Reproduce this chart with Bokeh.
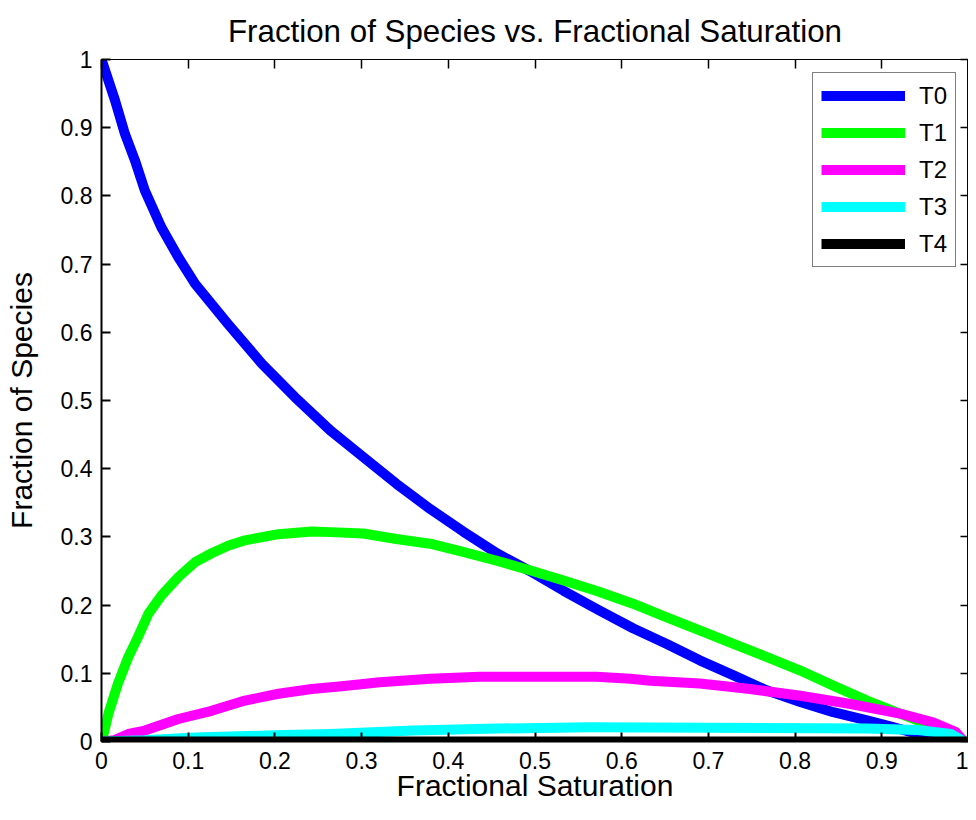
from bokeh.plotting import figure
from bokeh.models import Range1d, LinearAxis, FixedTicker, Legend, LegendItem
from bokeh.embed import file_html
from bokeh.resources import INLINE

# ---- data ----
t0_x = [0, 0.0156, 0.027, 0.0386, 0.05, 0.069, 0.0886, 0.108, 0.146, 0.185, 0.223, 0.264,
        0.302, 0.340, 0.379, 0.417, 0.456, 0.494, 0.533, 0.573, 0.613, 0.652, 0.690, 0.729,
        0.767, 0.806, 0.844, 0.883, 0.913, 0.95, 0.98]
t0_y = [1.0, 0.94, 0.891, 0.852, 0.808, 0.754, 0.710, 0.671, 0.612, 0.554, 0.505, 0.456,
        0.417, 0.378, 0.341, 0.308, 0.276, 0.250, 0.221, 0.193, 0.166, 0.143, 0.119, 0.097,
        0.075, 0.058, 0.043, 0.031, 0.021, 0.008, 0.0]

t1_x = [0, 0.002, 0.008, 0.019, 0.031, 0.042, 0.054, 0.069, 0.0886, 0.108, 0.127, 0.146,
        0.1655, 0.204, 0.2425, 0.264, 0.302, 0.340, 0.379, 0.417, 0.456, 0.494, 0.533, 0.573,
        0.613, 0.652, 0.690, 0.729, 0.767, 0.806, 0.844, 0.883, 0.921, 0.955, 0.984, 0.995]
t1_y = [0, 0.009, 0.041, 0.085, 0.124, 0.153, 0.187, 0.214, 0.241, 0.263, 0.276, 0.287,
        0.295, 0.304, 0.308, 0.307, 0.305, 0.297, 0.290, 0.278, 0.265, 0.251, 0.236, 0.220,
        0.202, 0.182, 0.163, 0.143, 0.124, 0.104, 0.082, 0.060, 0.041, 0.024, 0.008, 0.0]

t2_x = [0, 0.015, 0.031, 0.050, 0.0886, 0.127, 0.1655, 0.204, 0.2425, 0.277, 0.321, 0.379,
        0.4365, 0.494, 0.571, 0.610, 0.633, 0.690, 0.748, 0.806, 0.864, 0.921, 0.959, 0.985, 0.995]
t2_y = [0, 0.002, 0.011, 0.016, 0.033, 0.045, 0.060, 0.070, 0.077, 0.081, 0.087, 0.092,
        0.095, 0.095, 0.095, 0.092, 0.089, 0.085, 0.077, 0.067, 0.055, 0.041, 0.028, 0.014, 0.0]

t3_x = [0, 0.05, 0.108, 0.2, 0.264, 0.36, 0.456, 0.563, 0.7, 0.883, 0.94, 0.98, 0.995]
t3_y = [0, 0.002, 0.006, 0.009, 0.011, 0.016, 0.019, 0.021, 0.020, 0.019, 0.017, 0.011, 0.0]

t4_x = [0, 0.25, 0.5, 0.75, 1.0]
t4_y = [0, 0, 0, 0, 0]

series_names = ["T0", "T1", "T2", "T3", "T4"]
series_colors = ["#0000FF", "#00FF00", "#FF00FF", "#00FFFF", "#000000"]

tick_values = [0, 0.1, 0.2, 0.3, 0.4, 0.5, 0.6, 0.7, 0.8, 0.9, 1.0]
tick_labels = ["0", "0.1", "0.2", "0.3", "0.4", "0.5", "0.6", "0.7", "0.8", "0.9", "1"]

title_text = "Fraction of Species vs. Fractional Saturation"
x_label_text = "Fractional Saturation"
y_label_text = "Fraction of Species"

FONT = "Liberation Sans"

p = figure(width=968, height=804, x_range=Range1d(0, 1), y_range=Range1d(0, 1),
           output_backend="svg", toolbar_location=None,
           min_border_left=101, min_border_right=0, min_border_top=59, min_border_bottom=62,
           title=title_text)
p.title.text_font = FONT
p.title.text_font_size = "31.3px"
p.title.text_font_style = "normal"
p.title.align = "center"
p.title.text_color = "black"
p.title.standoff = 22

p.xgrid.visible = False
p.ygrid.visible = False
p.outline_line_color = "black"
p.outline_line_width = 1
p.background_fill_color = "white"
p.border_fill_color = "white"

overrides = {v: l for v, l in zip(tick_values, tick_labels)}

for ax in (p.xaxis[0], p.yaxis[0]):
    ax.ticker = FixedTicker(ticks=tick_values)
    ax.major_label_overrides = overrides
    ax.major_tick_in = 9
    ax.major_tick_out = 0
    ax.minor_tick_line_color = None
    ax.axis_line_width = 2
    ax.major_tick_line_width = 2
    ax.axis_line_color = "black"
    ax.major_tick_line_color = "black"
    ax.major_label_text_font = FONT
    ax.major_label_text_font_size = "23px"
    ax.major_label_text_color = "black"
    ax.axis_label_text_font = FONT
    ax.axis_label_text_font_size = "30px"
    ax.axis_label_text_font_style = "normal"
    ax.axis_label_text_color = "black"

p.xaxis[0].axis_label = x_label_text
p.yaxis[0].axis_label = y_label_text
p.xaxis[0].major_label_standoff = 10
p.xaxis[0].axis_label_standoff = -3
p.yaxis[0].major_label_standoff = 9
p.yaxis[0].axis_label_standoff = 20

top_ax = LinearAxis(ticker=FixedTicker(ticks=tick_values), major_tick_in=9, major_tick_out=0,
                    minor_tick_line_color=None, axis_line_width=1, major_tick_line_width=1.5,
                    major_label_text_font_size="0px", major_label_standoff=0, axis_label_standoff=0,
                    major_label_overrides={v: "" for v in tick_values})
right_ax = LinearAxis(ticker=FixedTicker(ticks=tick_values), major_tick_in=8, major_tick_out=0,
                      minor_tick_line_color=None, axis_line_width=1, major_tick_line_width=1.5,
                      major_label_text_font_size="0px", major_label_standoff=0, axis_label_standoff=0,
                      major_label_overrides={v: "" for v in tick_values})
p.add_layout(top_ax, "above")
p.add_layout(right_ax, "right")

xs = [t0_x, t1_x, t2_x, t3_x, t4_x]
ys = [t0_y, t1_y, t2_y, t3_y, t4_y]
renderers = []
for x, y, c in zip(xs, ys, series_colors):
    r = p.line(x, y, line_color=c, line_width=10, line_join="round", line_cap="butt")
    renderers.append(r)

legend = Legend(items=[LegendItem(label=n, renderers=[r]) for n, r in zip(series_names, renderers)],
                location=(711, 474), padding=8, spacing=8, margin=0,
                glyph_width=84, glyph_height=29, label_height=29, label_standoff=14,
                label_text_font=FONT, label_text_font_size="24px", label_text_color="black",
                border_line_color="black", border_line_width=1,
                background_fill_color="white", background_fill_alpha=1.0)
p.add_layout(legend, "center")

open("out.html", "w").write(file_html(p, INLINE))
